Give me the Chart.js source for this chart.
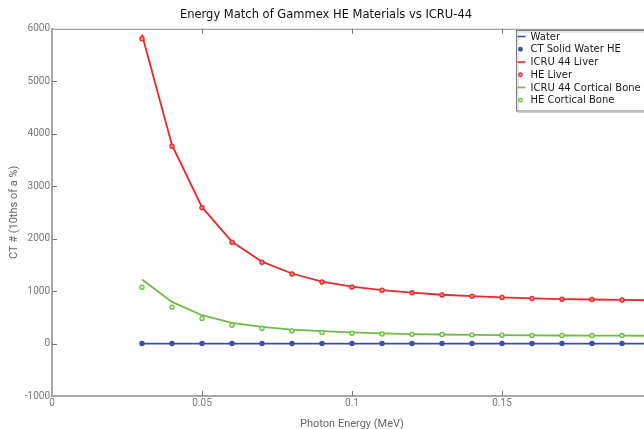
<!DOCTYPE html>
<html>
<head>
<meta charset="utf-8">
<script src="https://cdn.jsdelivr.net/npm/chart.js@4/dist/chart.umd.min.js"></script>
<style>
  html, body { margin: 0; padding: 0; background: #fff; overflow: hidden; }
  #wrap { width: 644px; height: 429px; overflow: hidden; position: relative; }
  canvas { display: block; }
</style>
</head>
<body>
<div id="wrap"><canvas id="c" width="690" height="440"></canvas></div>
<script>
// ---- data ----
const energies = [0.03, 0.04, 0.05, 0.06, 0.07, 0.08, 0.09, 0.10, 0.11, 0.12, 0.13, 0.14, 0.15, 0.16, 0.17, 0.18, 0.19, 0.20];
const waterLine      = [0, 0, 0, 0, 0, 0, 0, 0, 0, 0, 0, 0, 0, 0, 0, 0, 0, 0];
const ctSolidWaterHE = [0, 0, 0, 0, 0, 0, 0, 0, 0, 0, 0, 0, 0, 0, 0, 0, 0];
const icruLiver      = [5890, 3780, 2600, 1940, 1560, 1335, 1180, 1085, 1020, 970, 930, 905, 880, 862, 848, 840, 832, 825];
const heLiver        = [5810, 3763, 2587, 1932, 1551, 1328, 1175, 1080, 1017, 966, 927, 902, 877, 858, 845, 839, 832];
const icruCortical   = [1221, 794, 540, 393, 317, 267, 235, 214, 192, 180, 172, 165, 160, 156, 153, 151, 150, 149];
const heCortical     = [1074, 692, 477, 349, 286, 241, 209, 196, 183, 177, 171, 164, 158, 154, 152, 151, 151];
const seriesNames = ['Water', 'CT Solid Water HE', 'ICRU 44 Liver', 'HE Liver', 'ICRU 44 Cortical Bone', 'HE Cortical Bone'];
const xTickValues = [0, 0.05, 0.1, 0.15, 0.2];
const xTickLabels = ['0', '0.05', '0.1', '0.15', '0.2'];
const yTickValues = [-1000, 0, 1000, 2000, 3000, 4000, 5000, 6000];
const yTickLabels = ['-1000', '0', '1000', '2000', '3000', '4000', '5000', '6000'];
const chartTitle = 'Energy Match of Gammex HE Materials vs ICRU-44';
const xTitle = 'Photon Energy (MeV)';
const yTitle = 'CT # (10ths of a %)';

const pts = (vals) => vals.map((v, i) => ({ x: energies[i], y: v }));

const BLUE = '#3b4fa2', RED = '#ee2629', GREEN = '#6cbd45';

function lineDs(label, vals, color) {
  return { label, data: pts(vals), borderColor: color, backgroundColor: color,
    borderWidth: 1.8, pointRadius: 0, showLine: true, tension: 0, order: 2, kind: 'line' };
}
function ptDs(label, vals, color, fill) {
  return { label, data: pts(vals), borderColor: color, backgroundColor: fill,
    borderWidth: 1.3, pointRadius: 2.1, pointHoverRadius: 2.1, showLine: false, order: 1, kind: 'point' };
}

const datasets = [
  lineDs(seriesNames[0], waterLine, BLUE),
  ptDs(seriesNames[1], ctSolidWaterHE, BLUE, BLUE),
  lineDs(seriesNames[2], icruLiver, RED),
  ptDs(seriesNames[3], heLiver, RED, '#f58a8a'),
  lineDs(seriesNames[4], icruCortical, GREEN),
  ptDs(seriesNames[5], heCortical, GREEN, '#d6efc8'),
];

// inside tick marks, top frame, and boxed legend
const framePlugin = {
  id: 'frame',
  afterDatasetsDraw(chart) {
    const { ctx, chartArea: a, scales } = chart;
    ctx.save();
    ctx.strokeStyle = '#8a8a8a';
    ctx.lineWidth = 1;
    ctx.beginPath(); ctx.moveTo(a.left, a.top + 0.5); ctx.lineTo(a.right, a.top + 0.5); ctx.stroke();
    ctx.strokeStyle = '#777';
    scales.x.ticks.forEach(t => {
      const px = Math.round(scales.x.getPixelForValue(t.value)) + 0.5;
      if (t.value === 0) return;
      ctx.beginPath(); ctx.moveTo(px, a.bottom); ctx.lineTo(px, a.bottom - 5); ctx.stroke();
      ctx.beginPath(); ctx.moveTo(px, a.top); ctx.lineTo(px, a.top + 5); ctx.stroke();
    });
    scales.y.ticks.forEach(t => {
      const py = Math.round(scales.y.getPixelForValue(t.value)) + 0.5;
      if (t.value === -1000 || t.value === 6000) return;
      ctx.beginPath(); ctx.moveTo(a.left, py); ctx.lineTo(a.left + 5, py); ctx.stroke();
    });
    ctx.restore();
  },
  afterDraw(chart) {
    const { ctx } = chart;
    const bx = 516.5, by = 30.5, bw = 140, rowH = 12.75;
    const n = chart.data.datasets.length;
    const bh = n * rowH + 4;
    ctx.save();
    ctx.fillStyle = '#ffffff';
    ctx.fillRect(bx, by, bw, bh);
    ctx.strokeStyle = '#cfcfcf';
    ctx.lineWidth = 1;
    ctx.strokeRect(bx + 1.5, by + 1.5, bw, bh);
    ctx.strokeStyle = '#7a7a7a';
    ctx.strokeRect(bx, by, bw, bh);
    ctx.font = '10px "DejaVu Sans", Verdana, sans-serif';
    ctx.textBaseline = 'middle';
    ctx.textAlign = 'left';
    chart.data.datasets.forEach((ds, i) => {
      const cy = by + 6 + i * rowH;
      if (ds.kind === 'line') {
        ctx.strokeStyle = ds.borderColor; ctx.lineWidth = 1.6;
        ctx.beginPath(); ctx.moveTo(bx + 1, cy); ctx.lineTo(bx + 9, cy); ctx.stroke();
      } else {
        ctx.fillStyle = ds.backgroundColor; ctx.strokeStyle = ds.borderColor; ctx.lineWidth = 1.2;
        ctx.beginPath(); ctx.arc(bx + 4, cy, 1.8, 0, Math.PI * 2); ctx.fill(); ctx.stroke();
      }
      ctx.fillStyle = '#1a1a1a';
      ctx.fillText(ds.label, bx + 14, cy + 0.5);
    });
    ctx.restore();
  }
};

new Chart(document.getElementById('c'), {
  type: 'line',
  data: { datasets },
  plugins: [framePlugin],
  options: {
    responsive: false,
    animation: false,
    layout: { padding: { left: 0, right: 38, top: 0, bottom: 8 } },
    plugins: {
      legend: { display: false },
      tooltip: { enabled: false },
      title: {
        display: true, text: chartTitle, color: '#111',
        font: { family: '"DejaVu Sans", Verdana, sans-serif', size: 11.5, weight: 'normal' },
        padding: { top: 8, bottom: 7 }
      }
    },
    scales: {
      x: {
        type: 'linear', min: 0, max: 0.2,
        afterFit(s) { s.height = 36; },
        afterBuildTicks(s) { s.ticks = xTickValues.map(v => ({ value: v })); },
        ticks: {
          callback: (v) => { const i = xTickValues.indexOf(v); return i >= 0 ? xTickLabels[i] : ''; },
          color: '#777', font: { family: 'Roboto, sans-serif', size: 10 }, padding: 1, maxRotation: 0, autoSkip: false
        },
        grid: { drawOnChartArea: false, drawTicks: false },
        border: { display: true, color: '#a6a6a6', width: 2 },
        title: { display: true, text: xTitle, color: '#666', font: { family: 'Roboto, sans-serif', size: 11 }, padding: { top: 0, bottom: 1 } }
      },
      y: {
        type: 'linear', min: -1000, max: 6000,
        afterFit(s) { s.width = 52; },
        afterBuildTicks(s) { s.ticks = yTickValues.map(v => ({ value: v })); },
        ticks: {
          callback: (v) => { const i = yTickValues.indexOf(v); return i >= 0 ? yTickLabels[i] : ''; },
          color: '#777', font: { family: 'Roboto, sans-serif', size: 10 }, padding: 2, autoSkip: false
        },
        grid: { drawOnChartArea: false, drawTicks: false },
        border: { display: true, color: '#a6a6a6', width: 2 },
        title: { display: true, text: yTitle, color: '#666', font: { family: 'Roboto, sans-serif', size: 11 }, padding: { top: 8, bottom: 0 } }
      }
    }
  }
});
</script>
</body>
</html>
